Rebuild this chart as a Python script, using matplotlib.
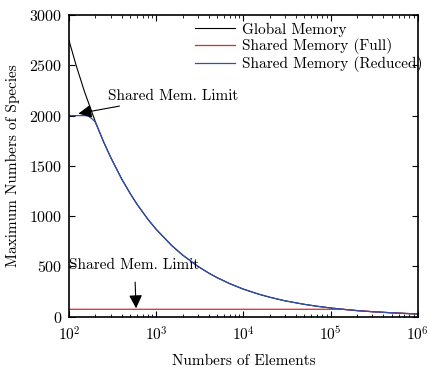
import numpy as np
import matplotlib
matplotlib.use("Agg")
import matplotlib.pyplot as plt

# values
n_global = [100, 120, 150, 200, 250, 300, 400, 500, 600, 800, 1000, 1500, 2000,
            3000, 4000, 5000, 7000, 10000, 15000, 20000, 30000, 50000, 70000,
            100000, 150000, 200000, 300000, 500000, 700000, 1000000]
v_global = [2745, 2505, 2240, 1940, 1735, 1585, 1372, 1228, 1120, 970, 868, 709, 614,
            501, 434, 388, 328, 274, 224, 194, 158, 123, 104,
            87, 71, 61, 50, 39, 33, 27]

n_full = [100, 1000, 10000, 135000, 150000, 200000, 300000, 500000, 700000, 1000000]
v_full = [74, 74, 74, 74, 71, 61, 50, 39, 33, 27]

n_reduced = [100, 150, 160, 170, 185, 200, 250, 300, 400, 500, 600, 800, 1000, 1500,
             2000, 3000, 4000, 5000, 7000, 10000, 15000, 20000, 30000, 50000, 70000,
             100000, 150000, 200000, 300000, 500000, 700000, 1000000]
v_reduced = [2000, 2000, 1998, 1990, 1965, 1935, 1735, 1585, 1372, 1228, 1120, 970, 868, 709,
             614, 501, 434, 388, 328, 274, 224, 194, 158, 123, 104,
             87, 71, 61, 50, 39, 33, 27]

plt.rcParams['font.family'] = 'serif'
plt.rcParams['font.serif'] = ['cmr10', 'DejaVu Serif']
plt.rcParams['mathtext.fontset'] = 'cm'
plt.rcParams['axes.formatter.use_mathtext'] = True
plt.rcParams['font.size'] = 11

fig = plt.figure(figsize=(4.29, 3.67), dpi=100)
ax = fig.add_axes([0.161, 0.137, 0.813, 0.822])

ax.plot(n_global, v_global, color='black', lw=0.8, label='Global Memory')
ax.plot(n_full, v_full, color='#e02828', lw=0.9, label='Shared Memory (Full)')
ax.plot(n_reduced, v_reduced, color='#3050b0', lw=0.9, label='Shared Memory (Reduced)')

ax.set_xscale('log')
ax.set_xlim(100, 1e6)
ax.set_ylim(0, 3000)
ax.set_yticks(np.arange(0, 3001, 500))

ax.tick_params(which='both', direction='in', top=True, right=True)
ax.tick_params(which='major', length=4, width=0.8)
ax.tick_params(which='minor', length=2, width=0.6)
ax.tick_params(axis='x', which='major', pad=6)
ax.tick_params(axis='y', which='major', pad=5, labelsize=11.5)
for s in ax.spines.values():
    s.set_linewidth(1.2)

ax.set_xlabel('Numbers of Elements')
ax.xaxis.set_label_coords(0.5, -0.125)
ax.set_ylabel('Maximum Numbers of Species')
ax.yaxis.set_label_coords(-0.14, 0.5)

ax.annotate('Shared Mem. Limit', xy=(128, 2020), xytext=(282, 2193),
            ha='left', va='center',
            arrowprops=dict(arrowstyle='-|>', color='black', lw=0.8,
                            mutation_scale=20, shrinkA=1, shrinkB=0))
ax.annotate('Shared Mem. Limit', xy=(587, 84), xytext=(563, 509),
            ha='center', va='center',
            arrowprops=dict(arrowstyle='-|>', color='black', lw=0.8,
                            mutation_scale=20, shrinkA=5, shrinkB=0))

ax.legend(loc='upper left', bbox_to_anchor=(0.361, 0.975), frameon=False,
          borderpad=0, borderaxespad=0, handlelength=2.6, handletextpad=0.45,
          labelspacing=0.1)

fig.savefig('out.png', dpi=100)
